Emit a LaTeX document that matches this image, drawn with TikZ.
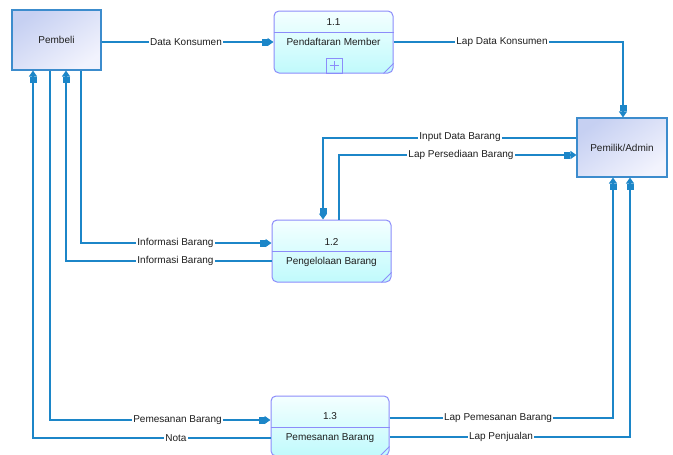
\documentclass[tikz,border=0pt]{standalone}
\usepackage{fontspec}
\setmainfont{Liberation Sans}
\usetikzlibrary{arrows.meta}
\definecolor{flow}{RGB}{28,134,200}
\definecolor{entb}{RGB}{60,140,205}
\definecolor{enta}{RGB}{198,208,242}
\definecolor{entz}{RGB}{242,243,253}
\definecolor{procb}{RGB}{140,140,250}
\definecolor{proca}{RGB}{244,255,255}
\definecolor{procz}{RGB}{192,250,252}
\definecolor{txt}{RGB}{30,30,30}
\begin{document}
\begin{tikzpicture}[x=1pt,y=-1pt,
  every node/.style={font=\fontsize{10}{12}\selectfont, text=txt},
  entity/.style={draw=entb, line width=1.1pt, top color=enta, bottom color=entz, shading angle=35, inner sep=0pt},
  procbox/.style={draw=procb, line width=1pt, rounded corners=5pt, top color=proca, bottom color=procz, inner sep=0pt},
  procline/.style={draw=procb, line width=1pt},
  flowline/.style={draw=flow, line width=1.2pt},
  flowarr/.style={flowline, -{Rectangle[length=6pt,width=7pt]Triangle[length=6pt,width=8pt]}},
  lbl/.style={fill=white, inner sep=1pt}]
\useasboundingbox (0,0) rectangle (673,455);

% external entities
\node[entity, minimum width=89pt, minimum height=60pt] (pembeli) at (56.5,40) {Pembeli};
\node[entity, minimum width=90pt, minimum height=59pt] (pemilik) at (622,147.5) {Pemilik/Admin};

% process 1.1
\node[procbox, minimum width=119pt, minimum height=62pt] (p11) at (333.5,42) {};
\draw[procline] (p11.west |- 0,32) -- (p11.east |- 0,32);
\node (p11n) at (333.5,22) {1.1};
\node (p11t) at (333.5,42) {Pendaftaran Member};
\node[draw=procb, line width=1pt, minimum width=16pt, minimum height=15pt, inner sep=0pt] (p11plus) at (334,65.5) {};
\draw[procline, line width=0.8pt] ([xshift=-4.5pt]p11plus.center) -- ([xshift=4.5pt]p11plus.center);
\draw[procline, line width=0.8pt] ([yshift=-4.5pt]p11plus.center) -- ([yshift=4.5pt]p11plus.center);
\draw[procline, line width=0.8pt] ([xshift=-10pt]p11.south east) -- ([yshift=10pt]p11.south east);

% process 1.2
\node[procbox, minimum width=119pt, minimum height=62pt] (p12) at (331.5,251) {};
\draw[procline] (p12.west |- 0,251) -- (p12.east |- 0,251);
\node (p12n) at (331.5,242) {1.2};
\node (p12t) at (331.5,262) {Pengelolaan Barang};
\draw[procline, line width=0.8pt] ([xshift=-10pt]p12.south east) -- ([yshift=10pt]p12.south east);

% process 1.3
\node[procbox, minimum width=118pt, minimum height=60pt] (p13) at (330,426) {};
\draw[procline] (p13.west |- 0,427) -- (p13.east |- 0,427);
\node (p13n) at (330,416) {1.3};
\node (p13t) at (330,438) {Pemesanan Barang};
\draw[procline, line width=0.8pt] ([xshift=-10pt]p13.south east) -- ([yshift=10pt]p13.south east);

% flows
\draw[flowarr] (pembeli.east |- p11.west) -- (p11.west);
\node[lbl] (l1) at (186,42) {Data Konsumen};

\draw[flowarr] (p11.east) -| ([xshift=1pt]pemilik.north);
\node[lbl] (l2) at (502,42) {Lap Data Konsumen};

\draw[flowarr] (pemilik.west |- 0,138) -| ([xshift=-8.5pt]p12.north);
\node[lbl] (l3) at (460,137) {Input Data Barang};

\draw[flowarr] ([xshift=7.5pt]p12.north) |- (pemilik.west |- 0,155);
\node[lbl] (l4) at (461,155) {Lap Persediaan Barang};

\draw[flowarr] ([xshift=24.5pt]pembeli.south) |- (p12.west |- 0,243);
\node[lbl] (l5) at (175.5,243) {Informasi Barang};

\draw[flowarr] (p12.west |- 0,261) -| ([xshift=9.5pt]pembeli.south);
\node[lbl] (l6) at (175.5,261) {Informasi Barang};

\draw[flowarr] ([xshift=-6.5pt]pembeli.south) |- (p13.west |- 0,420);
\node[lbl] (l7) at (177.5,420) {Pemesanan Barang};

\draw[flowarr] (p13.west |- 0,438) -| ([xshift=-23.5pt]pembeli.south);
\node[lbl] (l8) at (176,438) {Nota};

\draw[flowarr] (p13.east |- 0,418) -| ([xshift=-9pt]pemilik.south);
\node[lbl] (l9) at (498,418) {Lap Pemesanan Barang};

\draw[flowarr] (p13.east |- 0,437) -| ([xshift=8pt]pemilik.south);
\node[lbl] (l10) at (501,437) {Lap Penjualan};
\end{tikzpicture}
\end{document}
